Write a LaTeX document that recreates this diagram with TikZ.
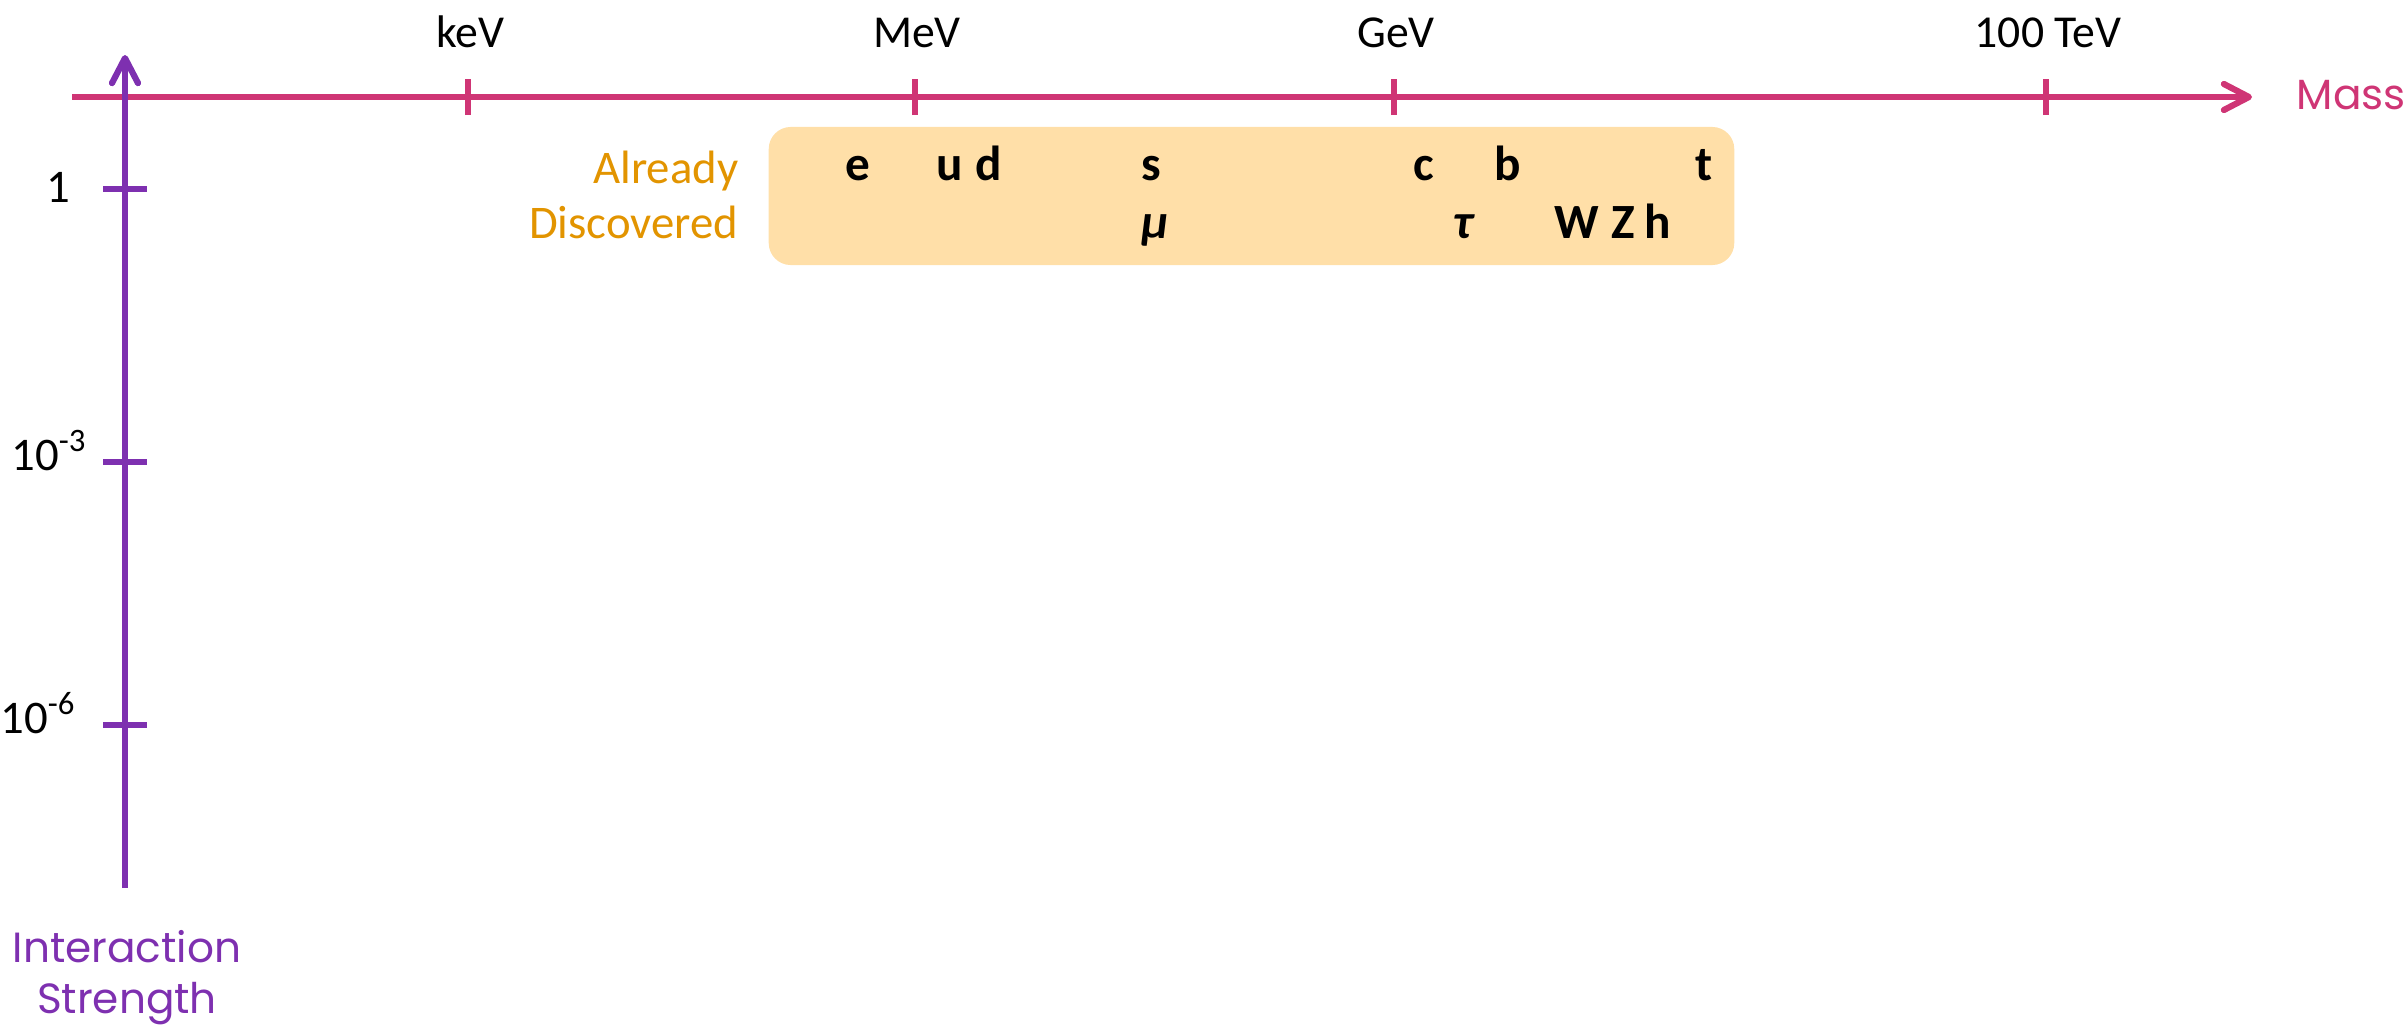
\documentclass[tikz,border=0pt]{standalone}
\usepackage{fontspec}
\setmainfont{Carlito}
\newfontfamily\handfont{Poppins}
\usetikzlibrary{arrows.meta}

\definecolor{massaxis}{RGB}{207,53,117}
\definecolor{strengthaxis}{RGB}{126,48,176}
\definecolor{knowntext}{RGB}{226,148,0}
\definecolor{knownfill}{RGB}{255,223,168}

\tikzset{
  axisline/.style={line width=0.062cm, line cap=butt},
  barbtip/.style={-{Straight Barb[length=0.25cm,width=0.26cm,round]}},
  ticklabel/.style={anchor=base, inner sep=0pt, font=\fontsize{13pt}{15pt}\selectfont},
  sidelabel/.style={anchor=base east, inner sep=0pt, font=\fontsize{13.3pt}{15pt}\selectfont},
  particle/.style={anchor=base, inner sep=0pt, font=\fontsize{14pt}{16pt}\selectfont\bfseries},
  greekparticle/.style={particle, font=\fontsize{14pt}{16pt}\selectfont\bfseries\itshape},
  axistitle/.style={inner sep=0pt, font=\fontsize{12pt}{14pt}\handfont},
}

\begin{document}
\begin{tikzpicture}[x=0.01cm, y=-0.01cm]
\useasboundingbox (0,0) rectangle (2408,1030);

% band of particles already discovered
\node[draw=none, fill=knownfill, rounded corners=0.22cm, minimum width=9.65cm,
      minimum height=1.38cm, inner sep=0pt] (known) at (1251.5,196) {};
\node[sidelabel, text=knowntext] (already) at (739,183) {Already};
\node[sidelabel, text=knowntext] (discovered) at (739,238) {Discovered};

% first row: fermions
\node[particle] (pe) at (858,180) {e};
\node[particle] (pu) at (950,180) {u};
\node[particle] (pd) at (989,180) {d};
\node[particle] (ps) at (1151,180) {s};
\node[particle] (pc) at (1424,180) {c};
\node[particle] (pb) at (1508,180) {b};
\node[particle] (pt) at (1704,180) {t};
% second row: heavier leptons and bosons
\node[greekparticle] (pmu) at (1155,238) {μ};
\node[greekparticle] (ptau) at (1463,238) {τ};
\node[particle] (pW) at (1577,238) {W};
\node[particle] (pZ) at (1623,238) {Z};
\node[particle] (ph) at (1658,238) {h};

% mass axis
\coordinate (mstart) at (72,97);
\coordinate (mend) at (2252,97);
\draw[axisline, massaxis, barbtip] (mstart) -- (mend);
\node[axistitle, anchor=base west, text=massaxis] (mass) at (2296,109) {Mass};

\foreach \name/\xx/\lab in {kev/468/keV, mev/915/MeV, gev/1394/GeV, tev/2046/100 TeV}{
  \coordinate (\name-lo) at (\xx,115);
  \coordinate (\name-hi) at (\xx,79);
  \draw[axisline, massaxis] (\name-lo) -- (\name-hi);
  \node[ticklabel] (\name-label) at (\xx+2,47) {\lab};
}

% interaction strength axis
\coordinate (sstart) at (125,888);
\coordinate (send) at (125,55);
\draw[axisline, strengthaxis, barbtip] (sstart) -- (send);

\foreach \name/\yy in {one/189, milli/462, micro/725}{
  \coordinate (\name-l) at (103,\yy);
  \coordinate (\name-r) at (147,\yy);
  \draw[axisline, strengthaxis] (\name-l) -- (\name-r);
}
\node[sidelabel] (one-label) at (71,202) {1};
\node[sidelabel] (milli-label) at (88,470) {10\textsuperscript{-3}};
\node[sidelabel] (micro-label) at (77,733) {10\textsuperscript{-6}};

\node[axistitle, anchor=base, text=strengthaxis] (strength1) at (127,962) {Interaction};
\node[axistitle, anchor=base, text=strengthaxis] (strength2) at (127,1013) {Strength};
\end{tikzpicture}
\end{document}
